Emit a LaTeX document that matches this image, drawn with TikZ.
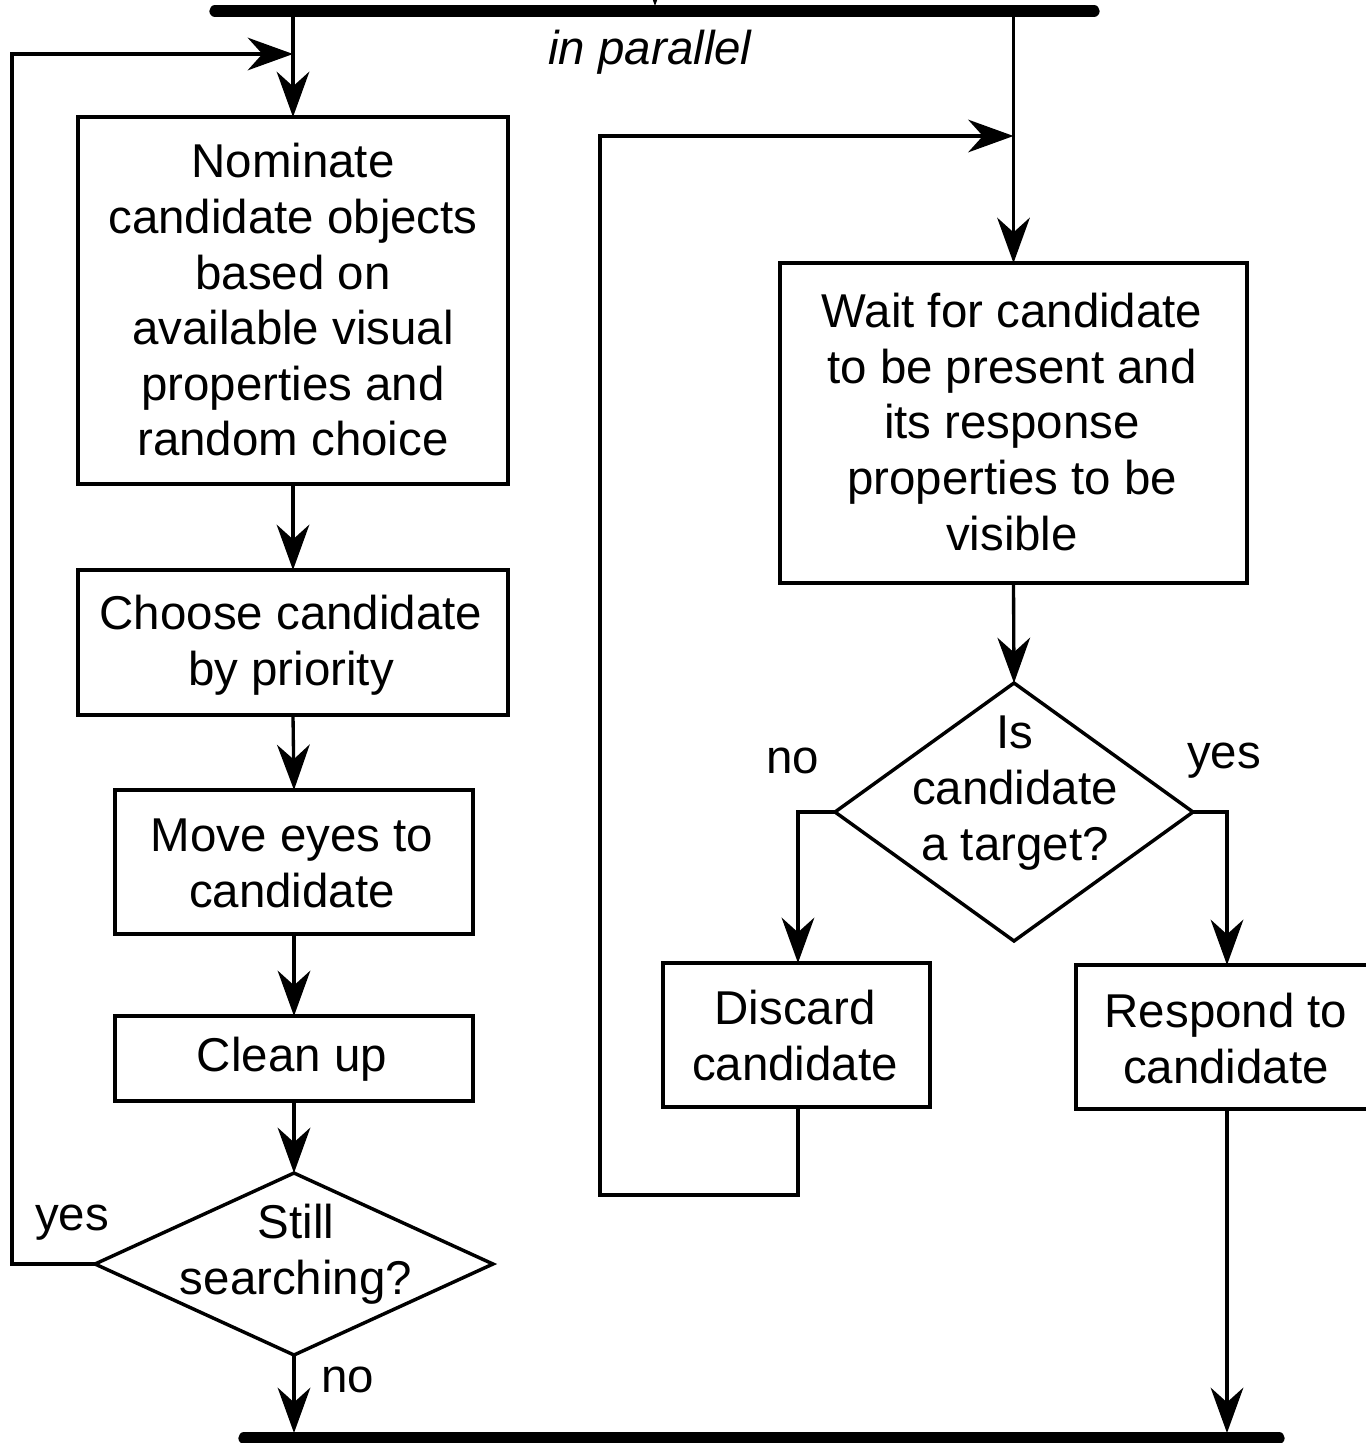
\documentclass[tikz,border=0pt]{standalone}
\usepackage{fontspec}
\setmainfont{Liberation Sans}
\usetikzlibrary{arrows.meta,shapes.geometric}
\begin{document}
\begin{tikzpicture}[x=0.75pt,y=-0.75pt,
  txt/.style={font=\fontsize{35.6pt}{41.7pt}\selectfont, align=center, inner sep=0pt},
  stepbox/.style={draw, line width=2.6pt, rectangle, inner sep=0pt, outer sep=0pt},
  choice/.style={draw, line width=2.6pt, diamond, inner sep=0pt, outer sep=0pt},
  arr/.style={line width=2.5pt, -{Stealth[length=34pt, width=24.5pt, inset=11pt]}},
  bar/.style={line width=8.5pt, line cap=round}]
\useasboundingbox (0,0) rectangle (1366,1443);
\clip (0,0) rectangle (1366,1443);

% fork and join bars
\coordinate (tbL) at (215,11);
\coordinate (tbR) at (1094,11);
\coordinate (bbL) at (244,1438);
\coordinate (bbR) at (1279,1438);
\coordinate (bbTop) at (244,1433);
\coordinate (inTop) at (655,-60);
\coordinate (inBar) at (655,6);

% search loop (left)
\node[stepbox, minimum width=322.5pt, minimum height=275.25pt] (b1) at (293,300.5) {};
\node[txt] (t1) at (293,300) {Nominate\\candidate objects\\based on\\available visual\\properties and\\random choice};
\node[stepbox, minimum width=322.5pt, minimum height=108.75pt] (b2) at (293,642.5) {};
\node[txt] (t2) at (291,645) {Choose candidate\\by priority};
\node[stepbox, minimum width=268.5pt, minimum height=108pt] (b3) at (294,862) {};
\node[txt] (t3) at (292,863.5) {Move eyes to\\candidate};
\node[stepbox, minimum width=268.5pt, minimum height=63.75pt] (b4) at (294,1058.5) {};
\node[txt] (t4) at (292,1059) {Clean up};
\node[choice, minimum width=298.5pt, minimum height=136.5pt] (d1) at (294,1264) {};
\node[txt] (t5) at (296,1254) {Still\\searching?};

% response process (right)
\node[stepbox, minimum width=350.25pt, minimum height=240pt] (b5) at (1013.5,423) {};
\node[txt] (t6) at (1012,422) {Wait for candidate\\to be present and\\its response\\properties to be\\visible};
\node[choice, minimum width=268.5pt, minimum height=193.5pt] (d2) at (1014,812) {};
\node[txt] (t7) at (1015,793) {Is\\candidate\\a target?};
\node[stepbox, minimum width=200.25pt, minimum height=108pt] (dc) at (796.5,1035) {};
\node[txt] (t8) at (795,1035.5) {Discard\\candidate};
\node[stepbox, minimum width=225pt, minimum height=108pt] (rs) at (1226,1037) {};
\node[txt] (t9) at (1226,1038.5) {Respond to\\candidate};

% labels
\node[txt, font=\fontsize{35.6pt}{41.7pt}\selectfont\itshape] (par) at (650,52) {in parallel};
\node[txt] (yes1) at (72,1223) {yes};
\node[txt] (no1) at (348,1380) {no};
\node[txt] (no2) at (793,761) {no};
\node[txt] (yes2) at (1224,761) {yes};

% connectors
\coordinate (loopL) at (12,54);
\coordinate (loopRb) at (600,1195);
\coordinate (loopR) at (600,136);

\draw[arr] (inTop) -- (inBar);
\draw[arr] (b1.north |- tbL) -- (b1.north);
\draw[arr] (b1.south) -- (b2.north);
\draw[arr] (b2.south) -- (b3.north);
\draw[arr] (b3.south) -- (b4.north);
\draw[arr] (b4.south) -- (d1.north);
\draw[arr] (d1.south) -- (d1.south |- bbTop);
\draw[arr] (d1.west) -| (loopL) -- (loopL -| b1.north);

\draw[arr] (b5.north |- tbR) -- (b5.north);
\draw[arr] (b5.south) -- (d2.north);
\draw[arr] (d2.west) -| ([xshift=1.1pt]dc.north);
\draw[arr] (d2.east) -| ([xshift=0.75pt]rs.north);
\draw[arr] ([xshift=0.75pt]rs.south) -- ([xshift=0.75pt]rs.south |- bbTop);
\draw[arr] ([xshift=1.1pt]dc.south) |- (loopRb) -- (loopR) -- (loopR -| b5.north);

\draw[bar] (tbL) -- (tbR);
\draw[bar] (bbL) -- (bbR);
\end{tikzpicture}
\end{document}
